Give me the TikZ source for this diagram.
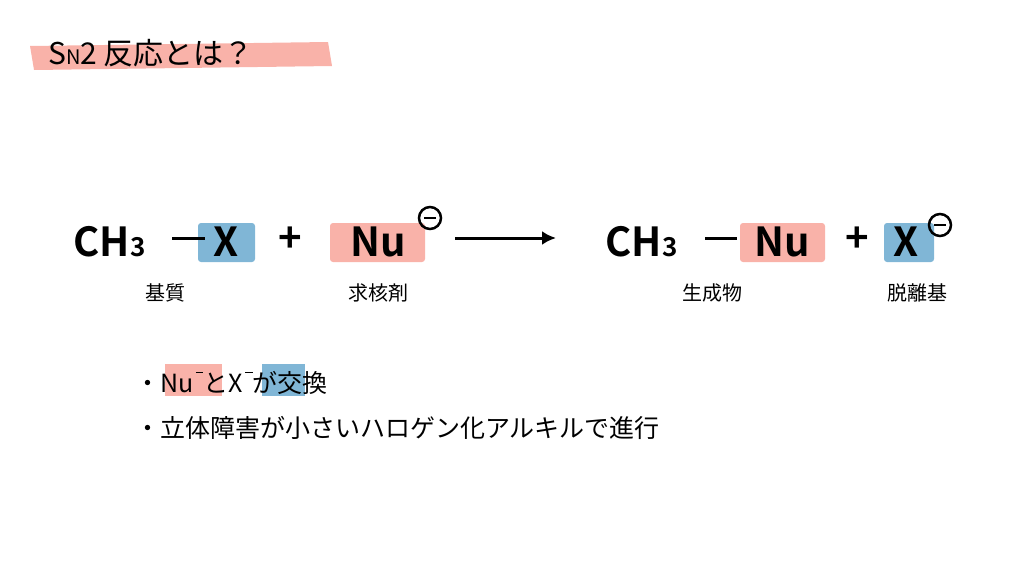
\documentclass[tikz,border=0pt]{standalone}
\usepackage{fontspec}
\usetikzlibrary{arrows.meta}
\setmainfont{Noto Sans CJK JP}
\newfontfamily\jpbold{Noto Sans CJK JP Bold}
\definecolor{hlpink}{HTML}{F9B2A9}
\definecolor{hlblue}{HTML}{80B6D6}
\newcommand{\minusmark}{\hspace{0.1em}\raisebox{0.75em}{\rule{0.3em}{1.6pt}}}
\tikzset{
	formula/.style={font=\jpbold\fontsize{40}{44}\selectfont, inner sep=0pt, anchor=base},
	sub/.style={font=\jpbold\fontsize{26}{28}\selectfont, inner sep=0pt, anchor=base west},
	label/.style={font=\fontsize{20}{24}\selectfont, inner sep=0pt, anchor=base},
	bullet/.style={font=\fontsize{25}{30}\selectfont, inner sep=0pt, anchor=base west},
	charge/.style={circle, draw, line width=2.5pt, minimum size=22pt, inner sep=0pt},
}
\begin{document}
\begin{tikzpicture}[x=1pt, y=-1pt, >=latex]
	\useasboundingbox (0,0) rectangle (1024,576);
	
	%Titel mit Markierung
	\fill[hlpink] (30,46) -- (328,42) -- (332,66) -- (34,70) -- cycle;
	\node[anchor=base west, inner sep=0pt, font=\fontsize{30}{34}\selectfont] (title) at (48,64)
	{S{\fontsize{20}{22}\selectfont N}2 反応とは？};
	
	%Markierungen in der Gleichung
	\fill[hlblue, rounded corners=3pt] (198,223) rectangle (255,262);
	\fill[hlpink, rounded corners=3pt] (330,223) rectangle (425,262);
	\fill[hlpink, rounded corners=3pt] (740,223) rectangle (825,262);
	\fill[hlblue, rounded corners=3pt] (884,223) rectangle (934,262);
	
	%linke Seite
	\node[formula, anchor=base west] (ch3a) at (73,256) {CH};
	\node[sub] (three1) at (ch3a.base east) {3};
	\draw[line width=3pt] (172,238) -- (205,238);
	\node[formula] (xa) at (226,256) {X};
	\node[formula] (plus1) at (290,252) {+};
	\node[formula] (nua) at (378,256) {Nu};
	\node[charge] (cha) at (430,218) {};
	\draw[line width=2.5pt] ([xshift=-6pt]cha.center) -- ([xshift=6pt]cha.center);
	
	%Pfeil
	\coordinate (arrs) at (455,238);
	\coordinate (arre) at (556,238);
	\draw[-{Latex[length=14pt,width=14pt]}, line width=3pt] (arrs) -- (arre);
	
	%rechte Seite
	\node[formula, anchor=base west] (ch3b) at (605,256) {CH};
	\node[sub] (three2) at (ch3b.base east) {3};
	\draw[line width=3pt] (705,238) -- (737,238);
	\node[formula] (nub) at (782,256) {Nu};
	\node[formula] (plus2) at (857,252) {+};
	\node[formula] (xb) at (906,256) {X};
	\node[charge] (chb) at (940,225) {};
	\draw[line width=2.5pt] ([xshift=-6pt]chb.center) -- ([xshift=6pt]chb.center);
	
	%Beschriftungen
	\node[label] (kishitsu) at (165,300) {基質};
	\node[label] (kyukaku) at (378,300) {求核剤};
	\node[label] (seisei) at (712,300) {生成物};
	\node[label] (dattri) at (917,300) {脱離基};
	
	%Stichpunkte
	\fill[hlpink] (165,364) rectangle (222,396);
	\fill[hlblue] (262,364) rectangle (305,396);
	\node[bullet] (b1) at (135,392) {・Nu\minusmark とX\minusmark が交換};
	\node[bullet] (b2) at (135,437) {・立体障害が小さいハロゲン化アルキルで進行};
\end{tikzpicture}
\end{document}
